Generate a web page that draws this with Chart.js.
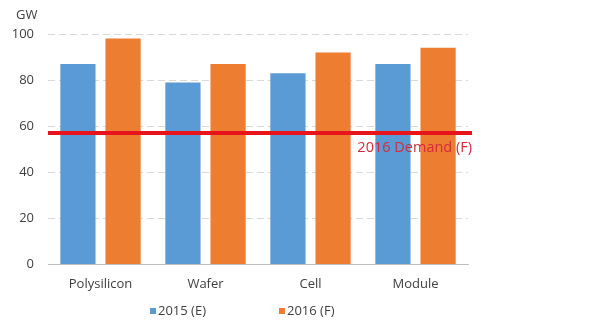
<!DOCTYPE html>
<html>
<head>
<meta charset="utf-8">
<script src="https://cdn.jsdelivr.net/npm/chart.js@4"></script>
<style>
  body { margin: 0; background: #fff; }
  #wrap { width: 600px; height: 323px; }
</style>
</head>
<body>
<div id="wrap"><canvas id="myChart"></canvas></div>
<script>
const categories = ['Polysilicon', 'Wafer', 'Cell', 'Module'];
const values2015 = [87, 79, 83, 87];
const values2016 = [98, 87, 92, 94];
const demand2016 = 57;
const yTicks = [0, 20, 40, 60, 80, 100];

// red demand line + label, unit label, and the legend at the bottom
const extras = {
  id: 'extras',
  afterDatasetsDraw(chart) {
    const c = chart.ctx;
    const area = chart.chartArea;
    const y = chart.scales.y.getPixelForValue(demand2016);
    c.save();
    c.strokeStyle = '#e8141c';
    c.lineWidth = 4;
    c.beginPath();
    c.moveTo(area.left, y);
    c.lineTo(area.right + 4, y);
    c.stroke();
    c.fillStyle = '#d42a3c';
    c.font = '14.5px "Open Sans"';
    c.textAlign = 'right';
    c.textBaseline = 'middle';
    c.fillText('2016 Demand (F)', area.right + 4, y + 15);
    c.fillStyle = '#404040';
    c.font = '13px "Open Sans"';
    c.textAlign = 'left';
    c.fillText('GW', 16, 15);

    // legend
    const legendX = [150, 279];
    chart.data.datasets.forEach((ds, i) => {
      c.fillStyle = ds.backgroundColor;
      c.fillRect(legendX[i], 308, 6, 6);
      c.fillStyle = '#404040';
      c.fillText(ds.label, legendX[i] + 8, 311);
    });
    c.restore();
  }
};

const ctx = document.getElementById('myChart');
new Chart(ctx, {
  type: 'bar',
  data: {
    labels: categories,
    datasets: [{
      label: '2015 (E)',
      data: values2015,
      backgroundColor: '#5b9bd5'
    }, {
      label: '2016 (F)',
      data: values2016,
      backgroundColor: '#ed7d31'
    }]
  },
  options: {
    responsive: true,
    maintainAspectRatio: false,
    animation: false,
    layout: { padding: { top: 34, right: 132, bottom: 27, left: 0 } },
    datasets: { bar: { barPercentage: 0.78, categoryPercentage: 0.86 } },
    scales: {
      x: {
        grid: { display: false },
        border: { color: '#bfbfbf' },
        ticks: { color: '#404040', font: { size: 13, family: 'Open Sans' }, padding: 4 }
      },
      y: {
        min: 0,
        max: 100,
        afterFit: s => { s.width = 48; },
        afterBuildTicks: s => { s.ticks = yTicks.map(v => ({ value: v })); },
        grid: { color: '#d9d9d9', drawTicks: false },
        border: { display: false, dash: [7, 4] },
        ticks: { color: '#404040', font: { size: 13, family: 'Open Sans' }, padding: 14 }
      }
    },
    plugins: {
      tooltip: { enabled: false },
      legend: { display: false }
    }
  },
  plugins: [extras]
});
</script>
</body>
</html>
